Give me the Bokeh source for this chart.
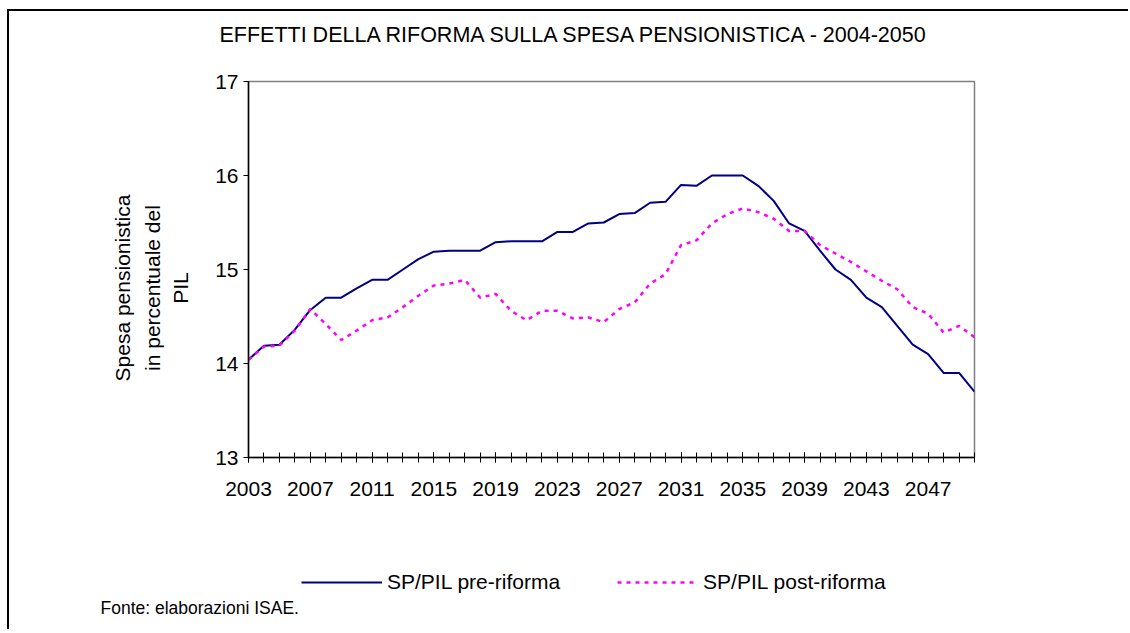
import math
from bokeh.plotting import figure
from bokeh.models import Range1d, FixedTicker, Legend, LegendItem, Label
from bokeh.layouts import column, row
from bokeh.embed import file_html
from bokeh.resources import INLINE

# ---- data ----
years = list(range(2003, 2051))
pre_riforma = [14.04, 14.19, 14.20, 14.36, 14.57, 14.70, 14.70, 14.80, 14.89, 14.89,
               15.00, 15.11, 15.19, 15.20, 15.20, 15.20, 15.29, 15.30, 15.30, 15.30,
               15.40, 15.40, 15.49, 15.50, 15.59, 15.60, 15.71, 15.72, 15.90, 15.89,
               16.00, 16.00, 16.00, 15.89, 15.73, 15.49, 15.41, 15.20, 15.00, 14.89,
               14.70, 14.60, 14.40, 14.20, 14.10, 13.90, 13.90, 13.70]
post_riforma = [14.04, 14.18, 14.19, 14.35, 14.58, 14.42, 14.25, 14.35, 14.46, 14.49,
                14.60, 14.72, 14.83, 14.85, 14.89, 14.70, 14.74, 14.56, 14.46, 14.56,
                14.56, 14.48, 14.49, 14.44, 14.58, 14.65, 14.85, 14.95, 15.26, 15.31,
                15.49, 15.59, 15.65, 15.61, 15.54, 15.41, 15.41, 15.26, 15.17, 15.08,
                14.98, 14.88, 14.79, 14.60, 14.53, 14.33, 14.40, 14.28]
x_label_years = list(range(2003, 2050, 4))
y_ticks = [13, 14, 15, 16, 17]
title_text = "EFFETTI DELLA RIFORMA SULLA SPESA PENSIONISTICA - 2004-2050"
ylabel_lines = ["Spesa pensionistica", "in percentuale del", "PIL"]
series_names = ["SP/PIL pre-riforma", "SP/PIL post-riforma"]
source_text = "Fonte: elaborazioni ISAE."

FONT = "Liberation Sans"
NAVY = "#000080"
MAGENTA = "#FF00FF"
TOTAL_W = 1119
LEFT_W = 199


def helper(w, h):
    f = figure(width=w, height=h, x_range=Range1d(0, w), y_range=Range1d(0, h),
               output_backend="svg", toolbar_location=None,
               x_axis_location=None, y_axis_location=None, min_border=0)
    f.outline_line_color = None
    f.background_fill_color = "white"
    f.border_fill_color = "white"
    f.xgrid.visible = False
    f.ygrid.visible = False
    return f


# ---- title strip ----
pt = helper(TOTAL_W, 40)
pt.add_layout(Label(x=566, y=17, text=title_text, text_align="center",
                    text_baseline="alphabetic", text_font=FONT, text_font_size="21.5px",
                    text_color="black"))

# ---- main chart ----
p = figure(width=TOTAL_W - LEFT_W, height=466, output_backend="svg", toolbar_location=None,
           x_range=Range1d(2003, 2050), y_range=Range1d(13, 17),
           min_border_left=40, min_border_right=154, min_border_top=30, min_border_bottom=60)
p.xgrid.visible = False
p.ygrid.visible = False
p.background_fill_color = "white"
p.border_fill_color = "white"
p.outline_line_color = "#808080"
p.outline_line_width = 1.5

xa = p.xaxis[0]
xa.ticker = FixedTicker(ticks=x_label_years, minor_ticks=years)
xa.axis_line_color = "black"
xa.axis_line_width = 1.5
xa.major_tick_in = 5
xa.major_tick_out = 5
xa.minor_tick_in = 5
xa.minor_tick_out = 5
xa.major_tick_line_color = "black"
xa.minor_tick_line_color = "black"
xa.major_label_text_font = FONT
xa.major_label_text_font_size = "21px"
xa.major_label_text_color = "black"
xa.major_label_standoff = 19

ya = p.yaxis[0]
ya.ticker = FixedTicker(ticks=y_ticks, minor_ticks=[])
ya.axis_line_color = "black"
ya.axis_line_width = 1.5
ya.major_tick_in = 0
ya.major_tick_out = 5
ya.minor_tick_in = 0
ya.minor_tick_out = 0
ya.major_tick_line_color = "black"
ya.major_label_text_font = FONT
ya.major_label_text_font_size = "21px"
ya.major_label_text_color = "black"
ya.major_label_standoff = 5

p.line(years, pre_riforma, line_color=NAVY, line_width=2)
p.line(years, post_riforma, line_color=MAGENTA, line_width=2.5, line_dash="4 5")

# ---- y-axis label strip ----
pl = helper(LEFT_W, 466)
for xv, t in zip([113, 143, 171], ylabel_lines):
    pl.add_layout(Label(x=xv, y=210, text=t, angle=math.pi / 2, text_align="center",
                        text_baseline="middle", text_font=FONT, text_font_size="21px",
                        text_color="black"))

# ---- legend + source strip ----
pb = helper(TOTAL_W, 112)
# legend keys reuse the series (drawn outside this strip's visible range)
k1 = pb.line(years, pre_riforma, line_color=NAVY, line_width=2)
k2 = pb.line(years, post_riforma, line_color=MAGENTA, line_width=2.5, line_dash="4 5")
lg = Legend(items=[LegendItem(label=series_names[0], renderers=[k1]),
                   LegendItem(label=series_names[1], renderers=[k2])],
            orientation="horizontal", location=(292, 35),
            glyph_width=81, label_standoff=5, spacing=57, padding=0, margin=0,
            border_line_color=None, background_fill_alpha=0,
            label_text_font=FONT, label_text_font_size="21px", label_text_color="black")
pb.add_layout(lg, "center")
pb.add_layout(Label(x=91, y=22, text=source_text, text_align="left",
                    text_baseline="alphabetic", text_font=FONT, text_font_size="17.5px",
                    text_color="black"))

layout = column(pt, row(pl, p, spacing=0), pb, spacing=0,
                styles={"margin-left": "7px", "margin-top": "9px",
                        "border-left": "2px solid black", "border-top": "2px solid black"})

open("out.html", "w").write(file_html(layout, INLINE))
